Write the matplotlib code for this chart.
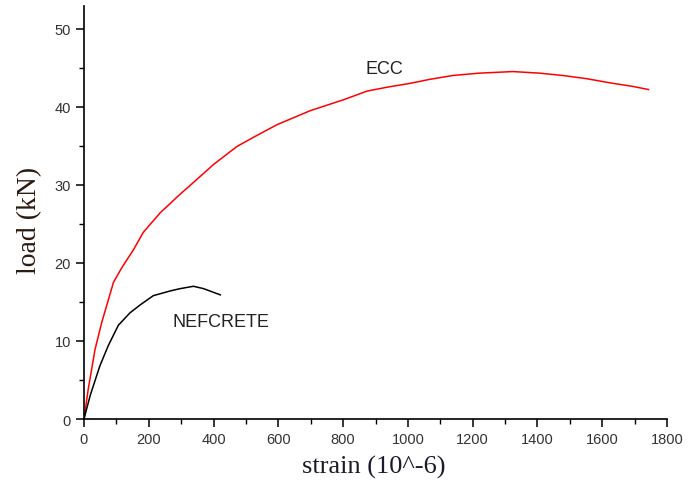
import matplotlib
matplotlib.use('Agg')
import matplotlib.pyplot as plt
from matplotlib.ticker import MultipleLocator

# ECC curve (strain in 10^-6, load in kN)
ecc_strain = [0, 13, 34, 55, 91, 117, 153, 183, 235, 297, 338, 400, 472, 524, 596, 699,
              802, 874, 936, 1008, 1067, 1139, 1221, 1324, 1406, 1478, 1550, 1632, 1694, 1743]
ecc_load = [0, 3.8, 8.9, 12.4, 17.5, 19.4, 21.7, 23.9, 26.4, 28.8, 30.3, 32.6, 34.9, 36.1, 37.7, 39.5,
            40.9, 42.0, 42.5, 43.0, 43.5, 44.0, 44.3, 44.5, 44.3, 44.0, 43.6, 43.0, 42.6, 42.2]

# NEFCRETE curve
nef_strain = [0, 19, 49, 75, 106, 142, 173, 214, 266, 297, 338, 369, 421]
nef_load = [0, 3.0, 6.8, 9.4, 12.0, 13.6, 14.6, 15.8, 16.4, 16.7, 17.0, 16.7, 15.9]

fig = plt.figure(figsize=(6.93, 4.85), dpi=100)
ax = fig.add_axes([0.1212, 0.134, 0.8413, 0.8516])

ax.plot(ecc_strain, ecc_load, color='red', lw=1.1)
ax.plot(nef_strain, nef_load, color='black', lw=1.1)

ax.text(928, 44.9, 'ECC', fontsize=13, family='Liberation Sans', color='#222222', ha='center', va='center')
ax.text(274, 12.5, 'NEFCRETE', fontsize=13, family='Liberation Sans', color='#222222', ha='left', va='center')

ax.set_xlim(0, 1800)
ax.set_ylim(0, 52.9)
ax.xaxis.set_major_locator(MultipleLocator(200))
ax.xaxis.set_minor_locator(MultipleLocator(100))
ax.yaxis.set_major_locator(MultipleLocator(10))
ax.yaxis.set_minor_locator(MultipleLocator(5))

for s in ['top', 'right']:
    ax.spines[s].set_visible(False)
for s in ['left', 'bottom']:
    ax.spines[s].set_linewidth(1.2)

ax.tick_params(which='major', direction='out', length=6, width=1.1, labelsize=10.5,
               labelcolor='#333333')
ax.tick_params(which='minor', direction='out', length=3.5, width=1.0)
for lab in ax.get_xticklabels() + ax.get_yticklabels():
    lab.set_family('Liberation Sans')

ax.set_xlabel('strain (10^-6)', family='Liberation Serif', fontsize=19, color='#1a1a2a')
ax.set_ylabel('load (kN)', family='Liberation Serif', fontsize=20, color='#2a1a10')
ax.xaxis.set_label_coords(0.497, -0.088)
ax.yaxis.set_label_coords(-0.072, 0.484)

fig.savefig('out.png', dpi=100)
